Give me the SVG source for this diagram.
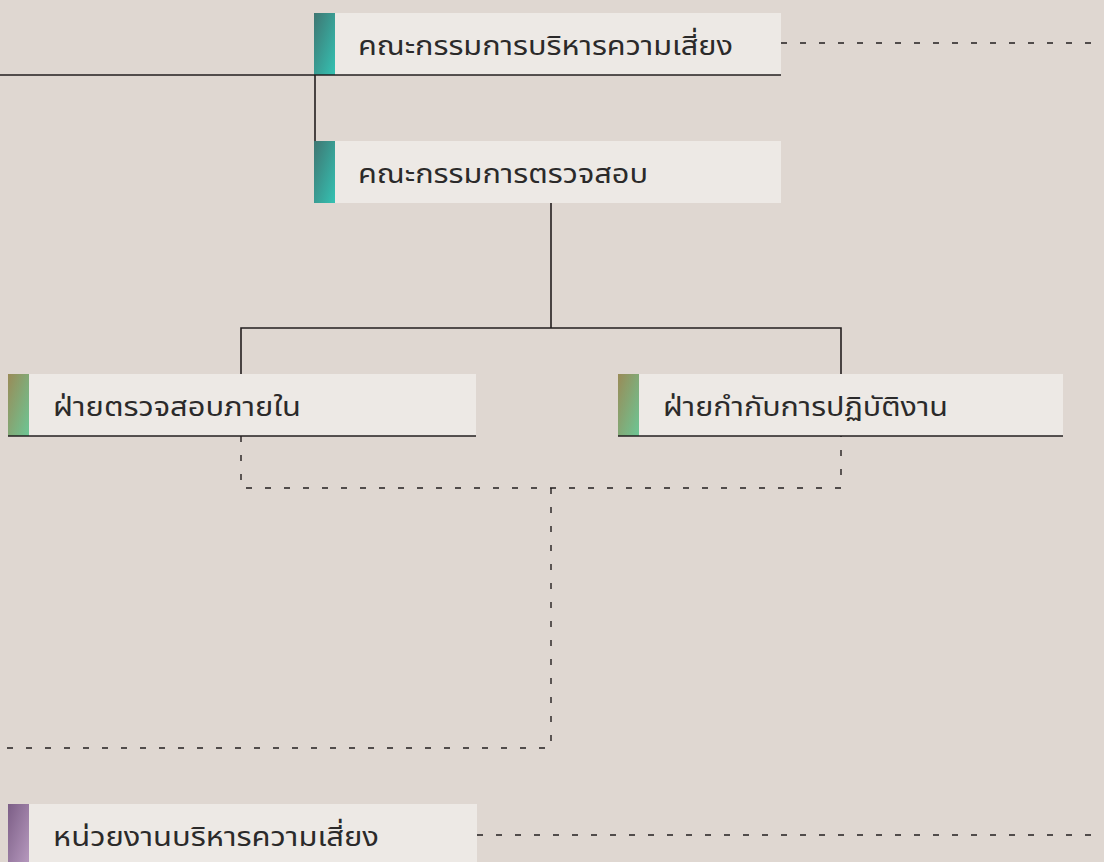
<svg xmlns="http://www.w3.org/2000/svg" width="1104" height="862" viewBox="0 0 1104 862">
<style>
.box{fill:#ede9e5}
.lbl{font-family:"Noto Sans Thai","Noto Sans Thai Looped","Noto Sans","DejaVu Sans",sans-serif;font-size:27px;fill:#2b2a2a}
.solid{stroke:#231f1f;stroke-width:1.6;fill:none}
.dash{stroke:#231f1f;stroke-width:1.4;fill:none;stroke-dasharray:6 13}
.base{stroke:#231f1f;stroke-width:1.6}
</style>
<defs>
<linearGradient id="gTeal" x1="0" y1="0" x2="1" y2="1">
<stop offset="0" stop-color="#3f7672"/><stop offset="1" stop-color="#34c2b3"/>
</linearGradient>
<linearGradient id="gOlive" x1="0" y1="0" x2="1" y2="1">
<stop offset="0" stop-color="#9a8b57"/><stop offset="1" stop-color="#6cc695"/>
</linearGradient>
<linearGradient id="gPurple" x1="0" y1="0" x2="1" y2="1">
<stop offset="0" stop-color="#7c5e86"/><stop offset="1" stop-color="#b79abf"/>
</linearGradient>
</defs>
<rect width="1104" height="862" fill="#dfd7d1"/>
<g id="connectors">
<path class="solid" d="M0 75H315V141"/>
<path class="solid" d="M551 203V328M241 374V328H841V374"/>
<path class="dash" d="M781 43H1104"/>
<path class="dash" d="M241 436V488H841V436"/>
<path class="dash" d="M551 488V748H0"/>
<path class="dash" d="M477 835H1104"/>
</g>
<g id="n1">
<rect class="box" x="314" y="13" width="467" height="62"/>
<rect x="314" y="13" width="21" height="62" fill="url(#gTeal)"/>
<line class="base" x1="314" y1="75" x2="781" y2="75"/>
<text class="lbl" x="358" y="55" textLength="375" lengthAdjust="spacingAndGlyphs">คณะกรรมการบริหารความเสี่ยง</text>
</g>
<g id="n2">
<rect class="box" x="314" y="141" width="467" height="62"/>
<rect x="314" y="141" width="21" height="62" fill="url(#gTeal)"/>
<text class="lbl" x="358" y="183" textLength="290" lengthAdjust="spacingAndGlyphs">คณะกรรมการตรวจสอบ</text>
</g>
<g id="n3">
<rect class="box" x="8" y="374" width="468" height="62"/>
<rect x="8" y="374" width="21" height="62" fill="url(#gOlive)"/>
<line class="base" x1="8" y1="436" x2="476" y2="436"/>
<text class="lbl" x="53" y="416" textLength="248" lengthAdjust="spacingAndGlyphs">ฝ่ายตรวจสอบภายใน</text>
</g>
<g id="n4">
<rect class="box" x="618" y="374" width="445" height="62"/>
<rect x="618" y="374" width="21" height="62" fill="url(#gOlive)"/>
<line class="base" x1="618" y1="436" x2="1063" y2="436"/>
<text class="lbl" x="663" y="416" textLength="285" lengthAdjust="spacingAndGlyphs">ฝ่ายกำกับการปฏิบัติงาน</text>
</g>
<g id="n5">
<rect class="box" x="8" y="804" width="469" height="62"/>
<rect x="8" y="804" width="21" height="62" fill="url(#gPurple)"/>
<text class="lbl" x="53" y="846" textLength="326" lengthAdjust="spacingAndGlyphs">หน่วยงานบริหารความเสี่ยง</text>
</g>
</svg>
